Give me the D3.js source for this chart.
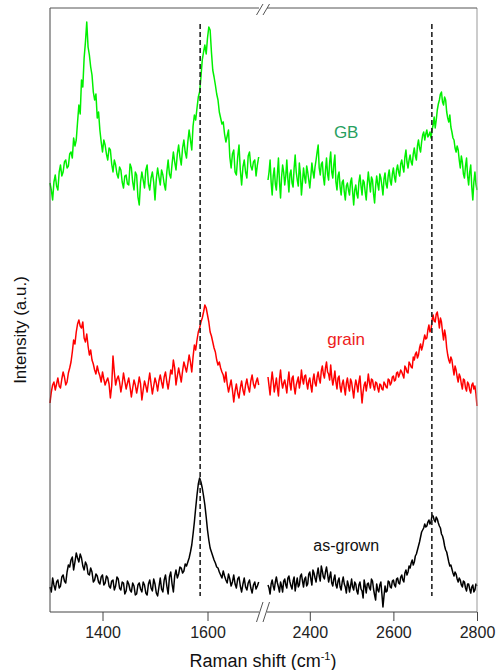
<!DOCTYPE html>
<html>
<head>
<meta charset="utf-8">
<script src="https://cdn.jsdelivr.net/npm/d3@7"></script>
<style>
  html, body { margin: 0; padding: 0; background: #fff; }
  svg { display: block; font-family: "Liberation Sans", Arial, sans-serif; }
</style>
</head>
<body>
<svg id="chart" width="496" height="670"></svg>
<script>
// Raman spectra, broken wavenumber axis: D/G region and 2D region.
const leftStart = 1300, leftStep = 2.5;   // 1300 ... 1697.5 cm-1
const rightStart = 2300, rightStep = 2.5; // 2300 ... 2800 cm-1

// intensities (a.u.) above each trace's own baseline offset
const asGrownLeft = [
  25,20,34,27,22,30,32,24,26,35,37,31,29,40,47,45,52,55,42,50,59,54,50,58,54,46,42,50,47,38,37,44,40,30,32,38,36,30,28,35,
  37,27,29,36,34,26,24,31,32,22,26,35,33,24,22,30,29,18,21,31,28,22,20,29,26,17,18,27,29,23,20,30,27,19,17,28,32,24,21,33,
  28,19,16,25,34,23,20,32,37,26,18,35,40,28,20,36,42,34,38,45,44,39,41,48,46,50,54,60,67,78,90,104,117,128,134,130,124,116,107,95,
  82,72,64,60,56,52,49,45,44,40,37,34,41,36,32,29,38,33,26,30,37,28,24,33,35,26,20,28,34,25,22,29,32,24,19,27,30,23,26,30];
const asGrownRight = [
  27,24,18,28,32,26,22,30,35,29,25,20,30,26,20,31,33,27,24,34,36,30,26,23,31,35,21,28,34,25,27,36,38,31,25,33,35,26,28,38,
  40,33,27,42,39,34,30,38,44,36,31,46,41,35,33,40,45,38,30,35,40,29,26,33,37,27,24,31,34,25,22,30,35,28,25,19,31,27,20,26,
  33,25,22,30,28,21,18,27,30,23,21,14,32,26,19,28,29,24,22,33,31,23,17,12,28,22,20,27,30,18,5,16,26,20,21,31,30,25,24,31,
  32,27,25,33,34,29,28,35,37,32,30,39,42,37,40,46,44,49,52,47,50,56,58,62,66,70,75,80,82,84,88,85,86,90,92,88,90,97,96,92,
  90,95,93,89,86,84,78,76,72,66,62,60,55,50,46,47,43,39,36,40,38,33,30,34,32,27,25,31,30,24,21,28,28,23,19,25,27,20,22,28,26];

const grainLeft = [
  9,20,27,30,22,28,34,26,24,33,40,35,27,30,39,44,50,60,72,68,80,88,92,86,84,90,74,70,78,66,57,62,52,48,42,38,46,40,36,30,
  40,33,27,31,34,28,14,26,56,40,27,33,36,30,20,28,39,31,23,29,34,25,15,24,32,27,19,26,35,28,12,22,31,26,20,30,39,28,18,26,
  34,29,21,31,37,30,24,35,40,30,23,32,42,38,52,44,27,36,44,37,30,41,50,45,40,48,57,50,40,55,67,62,72,80,84,90,94,100,107,104,
  97,90,80,76,70,64,60,52,47,50,44,40,37,30,40,28,20,26,32,22,10,21,28,19,14,24,31,22,17,27,33,25,20,31,37,28,24,30,34,27];
const grainRight = [
  35,26,17,30,40,31,20,27,34,24,16,33,42,30,24,29,32,26,19,31,40,28,22,34,36,25,18,27,31,35,24,30,42,33,28,36,37,29,23,31,
  34,26,20,32,38,29,26,35,40,33,29,41,46,38,34,44,50,40,38,32,47,35,27,33,41,30,23,34,36,25,20,28,32,24,17,29,34,26,21,33,
  30,22,14,25,32,27,20,30,36,22,9,20,27,30,21,28,38,30,24,33,32,26,22,30,29,24,20,28,27,23,22,30,28,25,24,33,32,27,29,35,
  36,31,32,39,40,35,38,42,40,37,34,46,44,40,39,50,48,45,44,55,52,58,60,54,57,64,68,62,66,72,77,73,74,82,87,80,82,92,97,91,
  90,98,100,93,84,94,90,80,72,82,76,64,57,52,49,55,52,44,37,46,42,35,30,38,35,28,23,33,32,24,21,30,28,22,19,27,29,23,26,18,6];

const gbLeft = [
  29,22,12,30,37,26,22,40,47,36,40,50,52,44,46,58,60,54,74,66,72,90,107,98,132,125,154,170,190,165,157,145,137,120,112,118,94,100,82,70,
  60,72,67,58,52,64,62,48,40,52,47,38,34,45,42,30,24,36,37,28,27,48,44,30,22,40,37,15,7,30,40,32,24,42,47,28,22,34,40,30,
  12,33,44,35,27,42,37,28,22,40,52,38,34,48,60,50,42,58,67,55,47,64,72,60,54,70,82,72,62,86,97,92,104,115,120,135,152,160,167,158,
  174,185,182,160,142,135,127,118,112,100,94,88,90,78,70,76,82,55,44,58,62,40,37,55,67,42,27,45,52,40,34,56,60,46,42,50,52,36,47,55];
const gbRight = [
  32,40,52,30,17,36,44,28,22,38,54,30,14,35,47,40,27,36,52,33,20,38,42,29,25,44,57,40,32,26,49,38,17,30,44,35,29,46,40,32,
  24,36,49,40,34,45,52,60,67,44,37,48,50,35,27,42,54,38,32,50,60,40,34,48,57,30,22,36,40,25,17,30,32,20,12,26,29,22,17,30,
  34,20,7,22,27,18,14,30,37,26,17,32,30,20,12,28,40,30,20,35,32,18,9,26,36,28,22,38,34,26,17,33,39,28,24,36,42,31,27,38,
  44,35,30,42,47,40,36,48,52,45,40,55,62,50,44,52,57,50,47,58,64,56,52,66,72,64,60,70,77,80,72,78,82,75,77,80,74,82,87,95,
  84,92,102,108,112,118,120,110,107,115,112,100,94,90,97,85,80,74,72,64,60,66,62,52,44,56,50,38,34,46,54,36,27,40,47,25,12,30,40,28,22];

// baseline offsets stacking the three traces
const offsets = { asGrown: 0, grain: 200, gb: 400 };

// peak positions (cm-1) marked with dashed guides
const peakG = 1586, peak2D = 2692;

const leftTicks = [1400, 1600];
const rightTicks = [2400, 2600, 2800];

const svg = d3.select("#chart");

const xL = d3.scaleLinear().domain([1300, 1700]).range([50, 260]);
const xR = d3.scaleLinear().domain([2300, 2800]).range([268, 477]);
const y = d3.scaleLinear().domain([0, 604]).range([612, 8]);

function toPoints(values, start, step, off) {
  return values.map((v, i) => ({ w: start + i * step, v: v + off }));
}

const series = [
  { name: "as-grown", color: "#000000", off: offsets.asGrown, left: asGrownLeft, right: asGrownRight },
  { name: "grain", color: "#ff0000", off: offsets.grain, left: grainLeft, right: grainRight },
  { name: "GB", color: "#00f000", off: offsets.gb, left: gbLeft, right: gbRight }
];

const lineL = d3.line().x(d => xL(d.w)).y(d => y(d.v));
const lineR = d3.line().x(d => xR(d.w)).y(d => y(d.v));

const gLines = svg.append("g");
series.forEach(s => {
  gLines.append("path")
    .attr("d", lineL(toPoints(s.left, leftStart, leftStep, s.off)))
    .attr("fill", "none").attr("stroke", s.color)
    .attr("stroke-width", 1.5).attr("stroke-linejoin", "round");
  gLines.append("path")
    .attr("d", lineR(toPoints(s.right, rightStart, rightStep, s.off)))
    .attr("fill", "none").attr("stroke", s.color)
    .attr("stroke-width", 1.5).attr("stroke-linejoin", "round");
});

// dashed peak guides
const guideTop = 588, guideBottom = 16;
[[xL, peakG], [xR, peak2D]].forEach(([sc, w]) => {
  svg.append("line")
    .attr("x1", sc(w)).attr("x2", sc(w))
    .attr("y1", y(guideTop)).attr("y2", y(guideBottom))
    .attr("stroke", "#222").attr("stroke-width", 1.6)
    .attr("stroke-dasharray", "5,3");
});

// frame
const frame = svg.append("g").attr("fill", "none");
frame.append("line").attr("x1", 50).attr("x2", 50).attr("y1", y(604)).attr("y2", y(0)).attr("stroke", "#444");
frame.append("line").attr("x1", 477).attr("x2", 477).attr("y1", y(604)).attr("y2", y(0)).attr("stroke", "#999");
frame.append("line").attr("x1", 50).attr("x2", 477).attr("y1", y(604)).attr("y2", y(604)).attr("stroke", "#555");
frame.append("line").attr("x1", 50).attr("x2", 477).attr("y1", y(0)).attr("y2", y(0)).attr("stroke", "#444");

// axes
const axL = svg.append("g").attr("transform", `translate(0,${y(0)})`)
  .call(d3.axisBottom(xL).tickValues(leftTicks).tickSize(9).tickPadding(6).tickFormat(d3.format("d")));
const axR = svg.append("g").attr("transform", `translate(0,${y(0)})`)
  .call(d3.axisBottom(xR).tickValues(rightTicks).tickSize(9).tickPadding(6).tickFormat(d3.format("d")));
[axL, axR].forEach(a => {
  a.select(".domain").remove();
  a.selectAll(".tick line").attr("stroke", "#444");
  a.selectAll(".tick text").attr("font-size", 16).attr("fill", "#222")
    .attr("font-family", "'Liberation Sans', Arial, sans-serif");
});

// axis break marks
function breakMarks(yTop, yBot, gapY) {
  svg.append("rect").attr("x", 259).attr("y", gapY - 2).attr("width", 8).attr("height", 4).attr("fill", "#fff");
  [[256.5, 263], [263, 269.5]].forEach(([a, b]) => {
    svg.append("line").attr("x1", a).attr("y1", yBot).attr("x2", b).attr("y2", yTop)
      .attr("stroke", "#555").attr("stroke-width", 1);
  });
}
breakMarks(4, 15, y(604));
breakMarks(602, 622, y(0));

// axis titles
const title = svg.append("text")
  .attr("x", 263).attr("y", 667)
  .attr("text-anchor", "middle").attr("font-size", 18).attr("fill", "#111");
title.append("tspan").text("Raman shift (cm");
title.append("tspan").attr("font-size", 11).attr("dy", -7).text("-1");
title.append("tspan").attr("dy", 7).text(")");

svg.append("text")
  .attr("transform", "translate(26,330) rotate(-90)")
  .attr("text-anchor", "middle").attr("font-size", 17).attr("fill", "#111")
  .text("Intensity (a.u.)");

// trace labels
const labelW = 2487;
const labels = [
  { text: "GB", v: 480, color: "#28a060" },
  { text: "grain", v: 273, color: "#ee2020" },
  { text: "as-grown", v: 67, color: "#111" }
];
labels.forEach(l => {
  svg.append("text")
    .attr("x", xR(labelW)).attr("y", y(l.v))
    .attr("text-anchor", "middle").attr("dominant-baseline", "central")
    .attr("font-size", l.text === "as-grown" ? 16 : 17).attr("fill", l.color)
    .text(l.text);
});
</script>
</body>
</html>
